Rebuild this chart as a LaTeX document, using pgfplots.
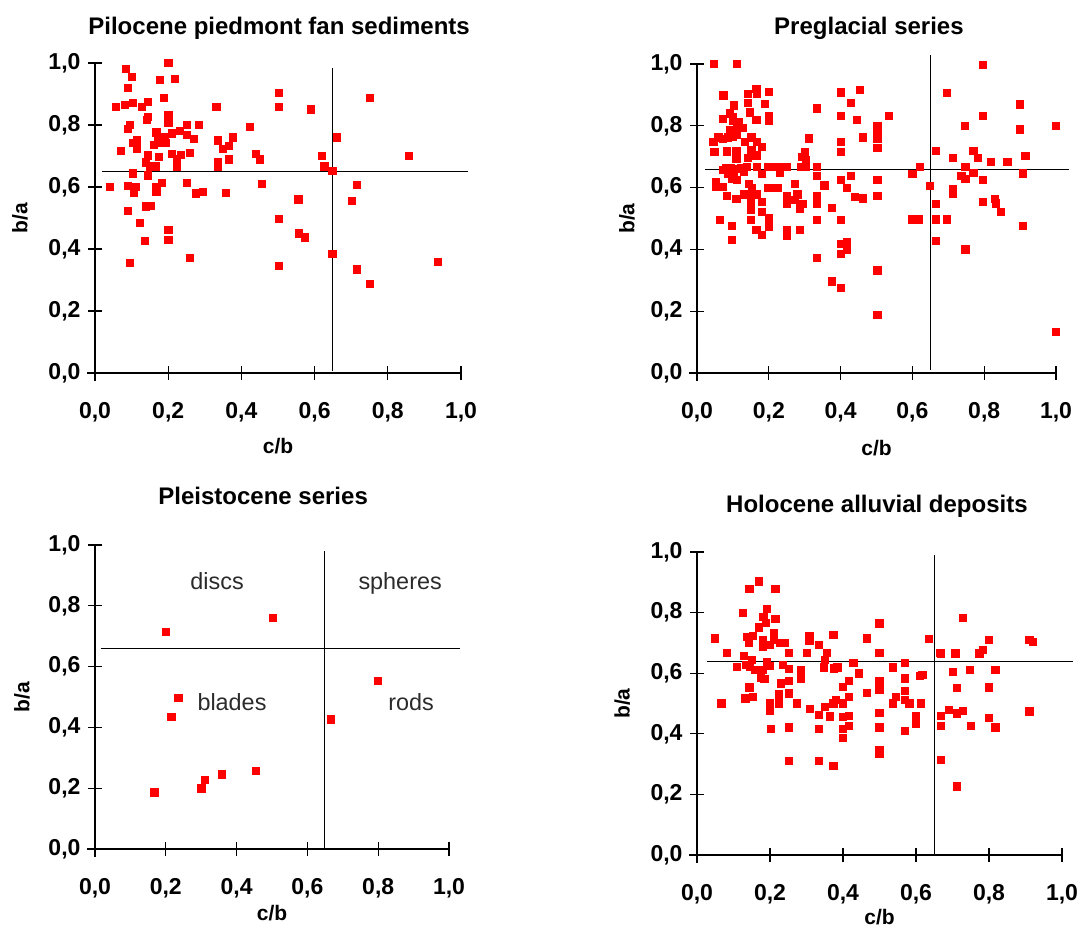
\documentclass[border=0pt]{standalone}
\usepackage{pgfplots}
\pgfplotsset{compat=1.18}
\usepackage{pgfplotstable}
\usepackage{fontspec}
\setmainfont{Liberation Sans}
\definecolor{qlab}{HTML}{2B2B2B}

\pgfplotstableread{
x y
0.084 0.982
0.101 0.957
0.089 0.921
0.200 1.000
0.177 0.947
0.217 0.949
0.187 0.889
0.056 0.859
0.080 0.865
0.102 0.871
0.127 0.859
0.144 0.876
0.200 0.833
0.200 0.808
0.141 0.818
0.144 0.826
0.095 0.802
0.090 0.787
0.167 0.777
0.172 0.763
0.190 0.761
0.209 0.774
0.231 0.782
0.251 0.802
0.283 0.802
0.250 0.769
0.270 0.755
0.193 0.744
0.178 0.744
0.161 0.737
0.103 0.742
0.113 0.751
0.113 0.724
0.069 0.718
0.209 0.708
0.233 0.704
0.222 0.691
0.259 0.711
0.174 0.699
0.144 0.703
0.138 0.680
0.150 0.667
0.165 0.667
0.222 0.665
0.102 0.645
0.144 0.638
0.041 0.602
0.090 0.605
0.112 0.602
0.106 0.581
0.167 0.602
0.167 0.586
0.183 0.613
0.251 0.615
0.274 0.580
0.294 0.586
0.331 0.859
0.336 0.751
0.348 0.723
0.365 0.734
0.376 0.761
0.335 0.681
0.335 0.667
0.365 0.690
0.357 0.581
0.422 0.795
0.440 0.708
0.450 0.690
0.456 0.612
0.501 0.905
0.501 0.859
0.090 0.524
0.122 0.484
0.139 0.538
0.153 0.541
0.135 0.427
0.200 0.462
0.200 0.431
0.259 0.373
0.094 0.357
0.501 0.498
0.501 0.347
0.555 0.561
0.556 0.451
0.572 0.438
0.589 0.851
0.619 0.702
0.626 0.667
0.648 0.653
0.648 0.386
0.660 0.761
0.702 0.556
0.714 0.608
0.714 0.335
0.750 0.889
0.750 0.289
0.857 0.702
0.936 0.360
}\dataA

\pgfplotstableread{
x y
0.046 1.000
0.110 1.000
0.073 0.899
0.141 0.903
0.165 0.921
0.166 0.903
0.200 0.910
0.188 0.872
0.141 0.875
0.103 0.867
0.146 0.844
0.091 0.841
0.072 0.822
0.099 0.830
0.100 0.816
0.117 0.814
0.165 0.819
0.199 0.832
0.199 0.816
0.128 0.794
0.112 0.798
0.091 0.787
0.086 0.763
0.072 0.759
0.059 0.763
0.045 0.750
0.110 0.771
0.099 0.765
0.133 0.750
0.151 0.763
0.167 0.750
0.181 0.733
0.151 0.722
0.165 0.705
0.109 0.720
0.109 0.694
0.141 0.698
0.082 0.718
0.048 0.716
0.311 0.760
0.333 0.857
0.400 0.909
0.454 0.916
0.428 0.874
0.400 0.832
0.444 0.819
0.533 0.832
0.502 0.799
0.502 0.773
0.502 0.760
0.502 0.729
0.462 0.763
0.400 0.749
0.400 0.716
0.299 0.716
0.293 0.701
0.302 0.690
0.288 0.668
0.302 0.668
0.333 0.668
0.249 0.668
0.228 0.668
0.214 0.668
0.198 0.668
0.167 0.668
0.139 0.668
0.121 0.663
0.107 0.661
0.093 0.663
0.079 0.664
0.071 0.657
0.086 0.646
0.102 0.636
0.110 0.625
0.097 0.630
0.130 0.652
0.179 0.646
0.230 0.649
0.333 0.638
0.428 0.639
0.051 0.619
0.052 0.603
0.070 0.603
0.082 0.574
0.144 0.614
0.153 0.598
0.130 0.579
0.147 0.579
0.167 0.579
0.109 0.563
0.149 0.555
0.179 0.555
0.198 0.600
0.223 0.600
0.271 0.612
0.249 0.574
0.279 0.579
0.272 0.562
0.286 0.549
0.295 0.547
0.286 0.533
0.249 0.547
0.333 0.573
0.333 0.547
0.354 0.608
0.400 0.625
0.417 0.600
0.440 0.570
0.462 0.566
0.502 0.625
0.502 0.573
0.376 0.534
0.149 0.528
0.149 0.497
0.179 0.522
0.199 0.501
0.199 0.484
0.199 0.474
0.064 0.497
0.097 0.476
0.097 0.432
0.165 0.463
0.179 0.449
0.249 0.463
0.249 0.446
0.286 0.465
0.333 0.497
0.400 0.497
0.400 0.419
0.417 0.425
0.417 0.400
0.400 0.385
0.333 0.374
0.376 0.297
0.400 0.277
0.502 0.333
0.502 0.190
0.599 0.646
0.597 0.498
0.616 0.498
0.620 0.668
0.648 0.606
0.664 0.719
0.664 0.547
0.664 0.498
0.664 0.428
0.696 0.908
0.696 0.498
0.711 0.698
0.711 0.595
0.711 0.582
0.745 0.800
0.747 0.668
0.736 0.638
0.747 0.629
0.747 0.401
0.769 0.720
0.769 0.649
0.781 0.698
0.796 0.999
0.796 0.832
0.796 0.625
0.796 0.555
0.819 0.684
0.829 0.564
0.831 0.550
0.845 0.522
0.864 0.684
0.898 0.870
0.898 0.789
0.907 0.647
0.914 0.704
0.907 0.478
0.998 0.800
0.998 0.135
}\dataB

\pgfplotstableread{
x y
0.200 0.716
0.501 0.761
0.235 0.499
0.215 0.436
0.167 0.187
0.300 0.200
0.309 0.227
0.357 0.246
0.453 0.258
0.665 0.427
0.798 0.554
}\dataC

\pgfplotstableread{
x y
0.168 0.904
0.143 0.878
0.214 0.878
0.124 0.801
0.191 0.813
0.181 0.787
0.187 0.768
0.214 0.779
0.168 0.752
0.048 0.716
0.135 0.721
0.152 0.725
0.142 0.702
0.180 0.710
0.180 0.688
0.198 0.694
0.209 0.735
0.209 0.710
0.226 0.702
0.239 0.702
0.082 0.669
0.250 0.669
0.300 0.669
0.307 0.724
0.307 0.708
0.333 0.693
0.373 0.728
0.356 0.669
0.350 0.646
0.464 0.716
0.499 0.765
0.499 0.669
0.635 0.713
0.664 0.669
0.128 0.657
0.149 0.646
0.134 0.628
0.109 0.622
0.144 0.622
0.159 0.611
0.180 0.611
0.190 0.639
0.200 0.624
0.175 0.587
0.184 0.581
0.234 0.628
0.251 0.616
0.285 0.611
0.285 0.595
0.285 0.581
0.346 0.620
0.375 0.617
0.384 0.620
0.428 0.635
0.443 0.600
0.535 0.620
0.569 0.635
0.569 0.584
0.610 0.593
0.617 0.595
0.700 0.605
0.143 0.554
0.132 0.518
0.153 0.522
0.066 0.501
0.230 0.567
0.251 0.576
0.251 0.534
0.223 0.531
0.223 0.501
0.200 0.501
0.200 0.490
0.200 0.476
0.272 0.501
0.308 0.482
0.333 0.463
0.350 0.489
0.363 0.458
0.373 0.501
0.379 0.514
0.399 0.556
0.415 0.575
0.415 0.523
0.399 0.501
0.399 0.457
0.415 0.461
0.415 0.428
0.399 0.417
0.399 0.387
0.464 0.536
0.499 0.576
0.499 0.561
0.499 0.545
0.499 0.470
0.499 0.422
0.499 0.347
0.499 0.336
0.535 0.501
0.544 0.523
0.569 0.542
0.569 0.514
0.581 0.501
0.613 0.501
0.598 0.459
0.598 0.435
0.569 0.411
0.201 0.417
0.250 0.422
0.333 0.417
0.250 0.311
0.333 0.311
0.373 0.296
0.668 0.666
0.668 0.459
0.668 0.427
0.668 0.316
0.689 0.481
0.707 0.666
0.712 0.552
0.712 0.468
0.727 0.477
0.712 0.227
0.727 0.784
0.748 0.612
0.750 0.427
0.773 0.666
0.782 0.677
0.799 0.712
0.799 0.554
0.799 0.453
0.817 0.611
0.817 0.422
0.910 0.712
0.919 0.705
0.910 0.475
}\dataD

\tikzset{ext/.style={black, line width=1.3pt}}
\pgfplotsset{
  panel/.style={
    scale only axis, anchor=south west,
    xmin=0, xmax=1, ymin=0, ymax=1,
    axis x line=bottom, axis y line=left,
    x axis line style={-},
    y axis line style={-},
    axis line style={line width=1.3pt, black},
    xtick align=center, ytick align=center, major tick length=14pt,
    every tick/.style={draw=black, line width=1.1pt},
    xtick={0,0.2,0.4,0.6,0.8,1}, ytick={0,0.2,0.4,0.6,0.8,1},
    /pgf/number format/fixed, /pgf/number format/fixed zerofill,
    /pgf/number format/precision=1, /pgf/number format/use comma,
    /pgf/number format/assume math mode=true,
    tick label style={font=\fontsize{23}{23}\selectfont\bfseries},
    yticklabel style={anchor=east, xshift=-4pt},
    xticklabel style={anchor=center, yshift=-32pt},
    xlabel={c/b}, ylabel={b/a},
    label style={font=\fontsize{21}{21}\selectfont\bfseries},
    title style={font=\fontsize{24}{24}\selectfont\bfseries, anchor=base},
    clip=false,
  },
  pts/.style={only marks, mark=square*, mark size=3.6pt,
    mark options={fill=red, draw=red, line width=0.3pt}},
  cross/.style={black, line width=1pt, no marks},
}

\begin{document}
\begin{tikzpicture}
% Panel 1
\begin{axis}[panel, at={(95pt,-373pt)}, width=366pt, height=310pt,
  title={Pilocene piedmont fan sediments},
  title style={at={(axis description cs:0.503,1.074)}},
  xlabel style={at={(axis description cs:0.5,-0.237)}, anchor=center},
  ylabel style={at={(axis description cs:-0.205,0.5)}, anchor=center, rotate=0}]
  \addplot[pts] table[x=x,y=y] {\dataA};
  \addplot[cross] coordinates {(0.02,0.65) (1.02,0.65)};
  \addplot[cross] coordinates {(0.65,0.005) (0.65,0.985)};
  \draw[ext] (axis cs:0,0) -- ++(-8pt,0pt);
  \draw[ext] (axis cs:0,0) -- ++(0pt,-8pt);
\end{axis}
% Panel 2
\begin{axis}[panel, at={(697pt,-373pt)}, width=359pt, height=309pt,
  title={Preglacial series},
  title style={at={(axis description cs:0.479,1.077)}},
  xlabel style={at={(axis description cs:0.5,-0.243)}, anchor=center},
  ylabel style={at={(axis description cs:-0.195,0.5)}, anchor=center, rotate=0}]
  \addplot[pts] table[x=x,y=y] {\dataB};
  \addplot[cross] coordinates {(0.023,0.66) (1.035,0.66)};
  \addplot[cross] coordinates {(0.65,0.01) (0.65,1.03)};
  \draw[ext] (axis cs:0,0) -- ++(-8pt,0pt);
  \draw[ext] (axis cs:0,0) -- ++(0pt,-8pt);
\end{axis}
% Panel 3
\begin{axis}[panel, at={(95pt,-849pt)}, width=354pt, height=304pt,
  title={Pleistocene series},
  title style={at={(axis description cs:0.475,1.115)}},
  xlabel style={at={(axis description cs:0.5,-0.21)}, anchor=center},
  ylabel style={at={(axis description cs:-0.206,0.5)}, anchor=center, rotate=0}]
  \addplot[pts] table[x=x,y=y] {\dataC};
  \addplot[cross] coordinates {(0.016,0.66) (1.032,0.66)};
  \addplot[cross] coordinates {(0.647,0) (0.647,0.98)};
  \draw[ext] (axis cs:0,0) -- ++(-8pt,0pt);
  \draw[ext] (axis cs:0,0) -- ++(0pt,-8pt);
  \node[font=\fontsize{23.4}{23.4}\selectfont, text=qlab] at (axis cs:0.345,0.88) {discs};
  \node[font=\fontsize{23.4}{23.4}\selectfont, text=qlab] at (axis cs:0.862,0.875) {spheres};
  \node[font=\fontsize{23.4}{23.4}\selectfont, text=qlab] at (axis cs:0.387,0.484) {blades};
  \node[font=\fontsize{23.4}{23.4}\selectfont, text=qlab] at (axis cs:0.893,0.484) {rods};
\end{axis}
% Panel 4
\begin{axis}[panel, at={(697pt,-855pt)}, width=365pt, height=303pt,
  title={Holocene alluvial deposits},
  title style={at={(axis description cs:0.493,1.112)}},
  xlabel style={at={(axis description cs:0.5,-0.205)}, anchor=center},
  ylabel style={at={(axis description cs:-0.205,0.5)}, anchor=center, rotate=0}]
  \addplot[pts] table[x=x,y=y] {\dataD};
  \addplot[cross] coordinates {(0.027,0.64) (1.03,0.64)};
  \addplot[cross] coordinates {(0.651,0.005) (0.651,0.99)};
  \draw[ext] (axis cs:0,0) -- ++(-8pt,0pt);
  \draw[ext] (axis cs:0,0) -- ++(0pt,-8pt);
\end{axis}
\pgfresetboundingbox
\useasboundingbox (0pt,0pt) rectangle (1081pt,-927pt);
\end{tikzpicture}
\end{document}
